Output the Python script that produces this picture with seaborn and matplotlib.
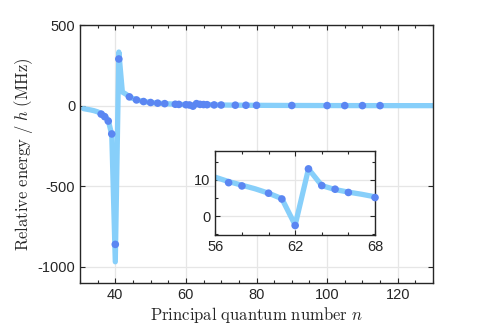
import numpy as np
import pandas as pd
import seaborn as sns
import matplotlib.pyplot as plt
from matplotlib.ticker import MultipleLocator

# theory curve (light blue line)
n_line = [31, 32, 33, 34, 35, 36, 37, 38, 39, 40, 41, 42, 43, 44, 45, 46, 47, 48, 49, 50,
          51, 52, 53, 54, 55, 56, 57, 58, 59, 60, 61, 62, 63, 64, 65, 66, 67, 68,
          70, 75, 80, 90, 100, 110, 120, 130]
e_line = [-18, -22, -26, -31, -38, -48, -62, -90, -180, -968, 333, 85, 72, 56, 45, 37, 31, 26, 23, 20,
          18, 16, 14.5, 13, 12, 10.7, 9.5, 8.5, 7.5, 6.3, 4.8, -2.5, 13.0, 8.4, 7.3, 6.6, 6.0, 5.3,
          4.5, 3.3, 2.5, 1.6, 1.1, 0.8, 0.6, 0.5]

# measured points (blue dots)
n_pts = [36, 37, 38, 39, 40, 41, 44, 46, 48, 50, 52, 54, 57, 58, 60, 61, 62, 63, 64, 65, 66, 68,
         70, 74, 77, 80, 90, 100, 105, 110, 115]
e_pts = [-52, -68, -95, -175, -860, 290, 55, 36, 26, 20, 16, 13, 9.2, 8.3, 6.3, 4.7, -2.6, 13.0, 8.4, 7.4, 6.5, 5.1,
         4.5, 3.5, 3.0, 2.5, 1.5, 1.0, 0.9, 0.8, 0.7]

line_df = pd.DataFrame({"n": n_line, "E": e_line})
pts_df = pd.DataFrame({"n": n_pts, "E": e_pts})
ins_pts = pts_df[(pts_df.n >= 56) & (pts_df.n <= 68)]

sns.set_style("ticks")
plt.rcParams["font.family"] = ["Liberation Sans", "DejaVu Sans"]
plt.rcParams["mathtext.fontset"] = "cm"
plt.rcParams["axes.unicode_minus"] = False
plt.rcParams["xtick.direction"] = "in"
plt.rcParams["ytick.direction"] = "in"

line_col = "#87cffa"
dot_col = "#5b86f2"
spine_col = "#262626"
grid_col = "#e6e6e6"

fig = plt.figure(figsize=(4.79, 3.35), dpi=100)
ax = fig.add_axes([0.167, 0.155, 0.737, 0.770])

sns.lineplot(data=line_df, x="n", y="E", ax=ax, color=line_col, lw=3.8, zorder=2)
sns.scatterplot(data=pts_df, x="n", y="E", ax=ax, color=dot_col, s=30, edgecolor="none", zorder=3)

ax.set_xlim(30, 130)
ax.set_ylim(-1100, 500)
ax.set_xticks([40, 60, 80, 100, 120])
ax.xaxis.set_minor_locator(MultipleLocator(5))
ax.set_yticks([-1000, -500, 0, 500])
ax.grid(True, color=grid_col, lw=0.9, zorder=0)
ax.set_axisbelow(True)
ax.tick_params(which="both", top=True, right=True, colors=spine_col, labelsize=10.5, length=3.5, width=0.8)
ax.tick_params(which="minor", length=2)
for s in ax.spines.values():
    s.set_color(spine_col)
    s.set_linewidth(1.0)
ax.set_xlabel(r"$\mathrm{Principal\ quantum\ number}\ n$", fontsize=12, labelpad=2)
ax.set_ylabel(r"$\mathrm{Relative\ energy}\ /\ h\ \mathrm{(MHz)}$", fontsize=12, labelpad=2)

# inset
axi = fig.add_axes([0.4495, 0.2976, 0.3334, 0.2525])
sns.lineplot(data=line_df, x="n", y="E", ax=axi, color=line_col, lw=3.8, zorder=2)
sns.scatterplot(data=ins_pts, x="n", y="E", ax=axi, color=dot_col, s=30, edgecolor="none", zorder=3, clip_on=False)
axi.set_xlim(56, 68)
axi.set_ylim(-5.3, 18)
axi.set_xticks([56, 62, 68])
axi.xaxis.set_minor_locator(MultipleLocator(2))
axi.set_yticks([0, 10])
axi.yaxis.set_minor_locator(MultipleLocator(5))
axi.grid(True, color=grid_col, lw=0.9, zorder=0)
axi.set_axisbelow(True)
axi.tick_params(which="both", top=True, right=True, colors=spine_col, labelsize=10.5, length=3.5, width=0.8)
axi.tick_params(which="minor", length=2)
axi.set_xlabel("")
axi.set_ylabel("")
for s in axi.spines.values():
    s.set_color(spine_col)
    s.set_linewidth(1.0)

fig.savefig("out.png", dpi=100)
